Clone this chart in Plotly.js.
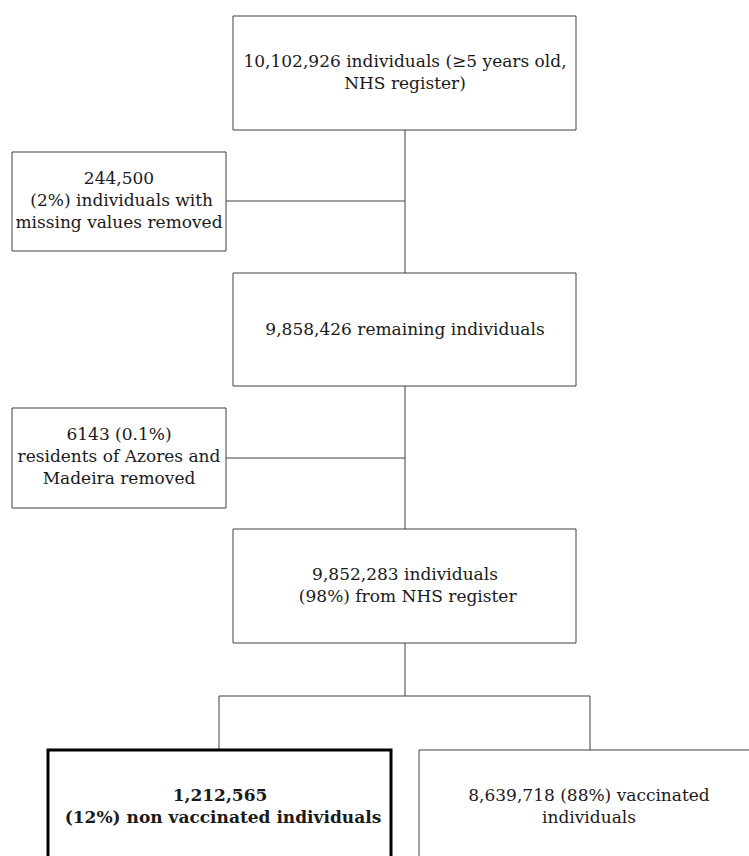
<!DOCTYPE html>
<html>
<head>
<meta charset="utf-8">
<script src="https://cdn.plot.ly/plotly-3.0.1.min.js"></script>
<style>html,body{margin:0;padding:0;background:#fff;}#chart{width:749px;height:856px;}</style>
</head>
<body>
<div id="chart"></div>
<script>
// Data: flowchart node labels
const nodeIds = ['start', 'missing', 'remaining', 'islands', 'final', 'nonvacc', 'vacc'];
const nodeLabels = [
  '10,102,926 individuals (≥5 years old,<br>NHS register)',
  '244,500<br> (2%) individuals with<br>missing values removed',
  '9,858,426 remaining individuals',
  '6143 (0.1%)<br>residents of Azores and<br>Madeira removed',
  '9,852,283 individuals<br> (98%) from NHS register',
  '<b>1,212,565<br> (12%) non vaccinated individuals</b>',
  '8,639,718 (88%) vaccinated<br>individuals'
];

// Layout geometry (pixels in a 749x856 frame)
const boxes = {
  start:     {x0: 233, x1: 576, y0: 16,  y1: 130, cx: 405, cy: 74},
  missing:   {x0: 12,  x1: 226, y0: 152, y1: 251, cx: 119, cy: 202},
  remaining: {x0: 233, x1: 576, y0: 273, y1: 386, cx: 405, cy: 331},
  islands:   {x0: 12,  x1: 226, y0: 408, y1: 508, cx: 119, cy: 458},
  final:     {x0: 233, x1: 576, y0: 529, y1: 643, cx: 405, cy: 587},
  nonvacc:   {x0: 48,  x1: 391, y0: 750, y1: 870, cx: 220, cy: 808, bold: true},
  vacc:      {x0: 419, x1: 760, y0: 750, y1: 870, cx: 589, cy: 808}
};
const connectors = [
  [405, 130, 405, 273],
  [226, 201, 405, 201],
  [405, 386, 405, 529],
  [226, 458, 405, 458],
  [405, 643, 405, 696],
  [219, 696, 590, 696],
  [219, 696, 219, 750],
  [590, 696, 590, 750]
];

const shapes = [];
connectors.forEach(c => shapes.push({
  type: 'line', xref: 'x', yref: 'y', x0: c[0], y0: c[1], x1: c[2], y1: c[3],
  line: {color: '#404040', width: 1}
}));
nodeIds.forEach(id => {
  const b = boxes[id];
  shapes.push({
    type: 'rect', xref: 'x', yref: 'y', x0: b.x0, x1: b.x1, y0: b.y0, y1: b.y1,
    fillcolor: 'rgba(0,0,0,0)',
    line: {color: b.bold ? '#000000' : '#404040', width: b.bold ? 3 : 1}
  });
});

const trace = {
  type: 'scatter', mode: 'text',
  x: nodeIds.map(id => boxes[id].cx),
  y: nodeIds.map(id => boxes[id].cy),
  text: nodeLabels,
  textposition: 'middle center',
  textfont: {family: 'DejaVu Serif', size: 17, color: '#1a1a1a'},
  hoverinfo: 'none', showlegend: false
};

const layout = {
  width: 749, height: 856,
  margin: {l: 0, r: 0, t: 0, b: 0},
  paper_bgcolor: '#ffffff', plot_bgcolor: '#ffffff',
  font: {family: 'DejaVu Serif'},
  xaxis: {range: [0, 749], visible: false, fixedrange: true},
  yaxis: {range: [856, 0], visible: false, fixedrange: true},
  shapes: shapes,
  showlegend: false
};

Plotly.newPlot('chart', [trace], layout, {displayModeBar: false, staticPlot: true});
</script>
</body>
</html>
